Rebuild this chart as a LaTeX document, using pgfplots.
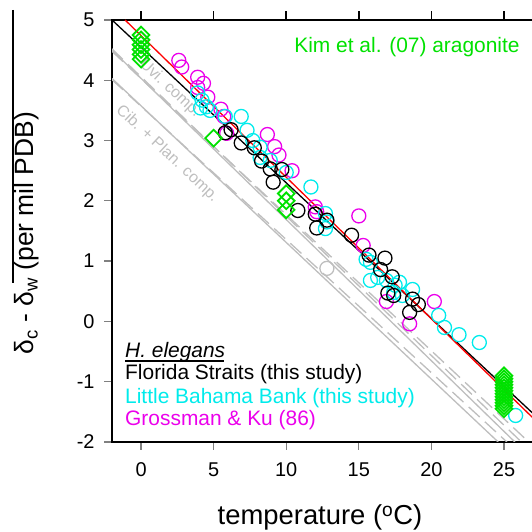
\documentclass[border=0pt]{standalone}
\usepackage{pgfplots}
\pgfplotsset{compat=1.18}
\usepackage{fontspec}
\setmainfont{Liberation Sans}
\definecolor{cgreen}{RGB}{0,225,0}
\definecolor{ccyan}{RGB}{0,235,235}
\definecolor{cmag}{RGB}{235,0,235}
\definecolor{cgrey}{RGB}{190,190,190}
\begin{document}
\begin{tikzpicture}[x=1bp,y=1bp]
\begin{axis}[
  at={(112bp,90bp)}, anchor=south west,
  scale only axis, width=428.3bp, height=422bp,
  xmin=-2, xmax=27.5, ymin=-2, ymax=5,
  xtick={0,5,10,15,20,25}, ytick={-2,-1,0,1,2,3,4,5},
  yticklabels={-2,-1,0,1,2,3,4,5},
  xtick pos=both, ytick pos=left,
  tick align=outside, major tick length=8bp,
  major tick style={line width=1.3bp},
  axis line style={line width=1.3bp},
  /pgf/number format/assume math mode=true,
  tick label style={font=\fontsize{20}{24}\selectfont},
  xticklabel style={yshift=-9bp},
  yticklabel style={xshift=-6bp},
]
% grey comparison lines
\addplot[cgrey, line width=1.3bp] coordinates {(-2,4.50) (25.75,-2)};
\addplot[cgrey, line width=1.3bp] coordinates {(-2,4.03) (24.6,-2)};
\addplot[cgrey, line width=1.3bp, dash pattern=on 15bp off 7bp] coordinates {(-2,4.52) (26.2,-2)};
\addplot[cgrey, line width=1.3bp, dash pattern=on 15bp off 7bp] coordinates {(-2,4.01) (25.2,-2)};
\addplot[cgrey, line width=1.3bp, dash pattern=on 15bp off 7bp] coordinates {(-2,4.48) (26.7,-2)};
\node[cgrey, rotate=-43, font=\fontsize{16}{18}\selectfont] at (axis cs:2.0,3.86) {Uvi. comp.};
\node[cgrey, rotate=-43, font=\fontsize{16}{18}\selectfont] at (axis cs:1.8,2.78) {Cib. + Plan. comp.};
% grey circle
\addplot[only marks, mark=o, mark size=7bp, cgrey, mark options={line width=1.3bp}] coordinates {(12.8,0.88)};
% magenta: Grossman & Ku (86)
\addplot[only marks, mark=o, mark size=7bp, cmag, mark options={line width=1.3bp}] coordinates {
(2.6,4.33) (2.8,4.22) (3.9,4.05) (4.3,3.95) (3.9,3.88) (4.6,3.72) (5.5,3.52) (5.7,3.40)
(5.9,3.12) (8.7,3.10) (9.2,2.90) (9.5,2.76) (10.4,2.50) (12.0,1.90) (12.1,1.82)
(15.0,1.75) (15.3,1.26) (16.9,0.33) (18.5,-0.04) (20.2,0.33)};
% cyan: Little Bahama Bank
\addplot[only marks, mark=o, mark size=7bp, ccyan, mark options={line width=1.3bp}] coordinates {
(3.9,3.79) (4.2,3.67) (4.5,3.56) (4.1,3.54) (4.75,3.50) (5.8,3.40) (6.9,3.40) (7.3,3.17)
(7.7,3.00) (8.2,2.89) (8.2,2.72) (8.9,2.67) (10.0,2.47) (11.7,2.23) (12.7,1.79) (12.7,1.54)
(12.8,1.65) (15.5,1.03) (15.8,0.98) (16.3,0.73) (15.8,0.68) (16.9,0.68) (17.4,0.48)
(17.5,0.60) (18.0,0.43) (18.7,0.53) (17.8,0.65) (20.5,0.10) (20.9,-0.10) (21.9,-0.22)
(23.3,-0.35) (25.8,-1.56)};
% black: Florida Straits
\addplot[only marks, mark=o, mark size=7bp, black, mark options={line width=1.3bp}] coordinates {
(5.8,3.13) (6.2,3.18) (6.9,2.96) (7.8,2.88) (8.3,2.66) (8.9,2.53) (9.7,2.52) (9.1,2.31)
(10.8,1.84) (12.0,1.78) (12.1,1.55) (12.8,1.68) (14.5,1.43) (15.7,1.10) (16.8,1.05)
(16.5,0.86) (17.3,0.74) (17.0,0.47) (17.4,0.43) (18.7,0.37) (19.1,0.28) (18.5,0.15)};
% green diamonds: Kim et al. (07)
\addplot[only marks, mark=square, mark size=5.9bp, cgreen, mark options={rotate=45, line width=1.8bp}] coordinates {
(0,4.75) (0,4.67) (0,4.59) (0,4.51) (0,4.43) (0,4.35)
(5,3.04)
(10,2.12) (10,2.0) (10,1.85)
(25,-0.90) (25,-0.95) (25,-1.00) (25,-1.05) (25,-1.10) (25,-1.15) (25,-1.20) (25,-1.25)
(25,-1.30) (25,-1.35) (25,-1.40) (25,-1.45)};
% regression lines
\addplot[black, line width=1.3bp] coordinates {(-2,5) (27.5,-1.64)};
\addplot[red, line width=1.3bp] coordinates {(-1.1,5) (27.5,-1.72)};
\end{axis}
% texts
\node[cgreen, anchor=base, font=\fontsize{21}{24}\selectfont] at (407,479) {Kim et al. (07) aragonite};
\node[black, anchor=base west, font=\fontsize{21}{24}\selectfont, inner sep=0pt] (he) at (125,174) {\textit{H. elegans}};
\draw[line width=1.2bp] (he.base west) ++(0,-3) -- ++(99,0);
\node[black, anchor=base west, font=\fontsize{21}{24}\selectfont, inner sep=0pt] at (125,152) {Florida Straits (this study)};
\node[ccyan, anchor=base west, font=\fontsize{21}{24}\selectfont, inner sep=0pt] at (125,128) {Little Bahama Bank (this study)};
\node[cmag, anchor=base west, font=\fontsize{21}{24}\selectfont, inner sep=0pt] at (125,106) {Grossman \& Ku (86)};
\node[anchor=base, font=\fontsize{27.5}{30}\selectfont] at (320,7) {temperature (\textsuperscript{o}C)};
\node[rotate=90, font=\fontsize{26.5}{30}\selectfont] at (27,299) {δ\textsubscript{c} - δ\textsubscript{w} (per mil PDB)};
\draw[line width=1.3bp] (13,522) -- (13,249);
% top ticks (axis decoration) at the positions of x = 0, 5, ..., 25
\draw[line width=1.5bp, black] (141.0,512) -- (141.0,521);
\draw[line width=1.5bp, black] (213.6,512) -- (213.6,521);
\draw[line width=1.5bp, black] (286.2,512) -- (286.2,521);
\draw[line width=1.5bp, black] (358.8,512) -- (358.8,521);
\draw[line width=1.5bp, black] (431.4,512) -- (431.4,521);
\draw[line width=1.5bp, black] (504.0,512) -- (504.0,521);
\pgfresetboundingbox
\useasboundingbox (0,0) rectangle (532,532);
\end{tikzpicture}
\end{document}
